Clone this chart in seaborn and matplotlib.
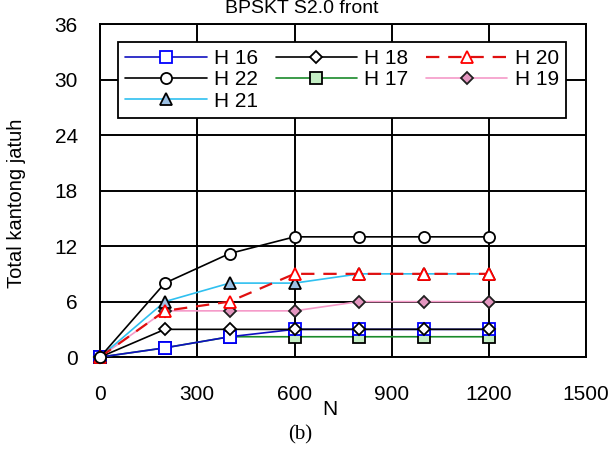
import pandas as pd
import seaborn as sns
import matplotlib.pyplot as plt

# data
n_values = [0, 200, 400, 600, 800, 1000, 1200]
h16 = [0, 1, 2.2, 3, 3, 3, 3]
h17 = [0, 1, 2.2, 2.2, 2.2, 2.2, 2.2]
h18 = [0, 3, 3, 3, 3, 3, 3]
h19 = [0, 5, 5, 5, 6, 6, 6]
h20 = [0, 5, 6, 9, 9, 9, 9]
h21 = [0, 6, 8, 8, 9, 9, 9]
h22 = [0, 8, 11.2, 13, 13, 13, 13]

x_ticks = [0, 300, 600, 900, 1200, 1500]
y_ticks = [0, 6, 12, 18, 24, 30, 36]

sns.set_style('white')
plt.rcParams['font.family'] = ['Liberation Sans', 'DejaVu Sans']
plt.rcParams['text.color'] = 'black'
plt.rcParams['axes.labelcolor'] = 'black'

df = pd.DataFrame({'N': n_values, 'H 16': h16, 'H 17': h17, 'H 18': h18,
                   'H 19': h19, 'H 20': h20, 'H 21': h21, 'H 22': h22})

# name: (line colour, linestyle, marker, face, edge, linewidth)
styles = {
    'H 17': ('#1a8a2a', '-', 's', '#c4eec4', 'black', 1.2),
    'H 16': ('#1010c0', '-', 's', 'white', '#0000ff', 1.2),
    'H 18': ('black', '-', 'D', 'white', 'black', 1.2),
    'H 19': ('#f59ac8', '-', 'D', '#e496c0', '#202020', 1.2),
    'H 21': ('#2fc0f0', '-', '^', '#9cc0e4', 'black', 1.2),
    'H 20': ('#e01010', (0, (6, 4)), '^', 'white', '#ff0000', 1.6),
    'H 22': ('black', '-', 'o', 'white', 'black', 1.2),
}

fig = plt.figure(figsize=(6.1, 4.59), dpi=100)
ax = fig.add_axes([0.164, 0.222, 0.797, 0.7255])

handles = {}
for name, (c, ls, m, fc, ec, lw) in styles.items():
    sns.lineplot(data=df, x='N', y=name, ax=ax, color=c, linestyle=ls, linewidth=lw,
                 marker=m, markersize=8 if m != 'D' else 6.5, markerfacecolor=fc,
                 markeredgecolor=ec, markeredgewidth=1.3, clip_on=False, zorder=3)
    handles[name] = ax.lines[-1]

ax.set_xlim(0, 1500)
ax.set_ylim(0, 36)
ax.set_xticks(x_ticks)
ax.set_yticks(y_ticks)
ax.grid(True, color='black', linewidth=1.4)
for s in ax.spines.values():
    s.set_color('black')
    s.set_linewidth(1.4)
ax.tick_params(axis='both', direction='out', length=6, width=1.4, colors='black',
               labelsize=15)
ax.tick_params(axis='y', pad=10)
ax.tick_params(axis='x', pad=14)

ax.set_xlabel('N', fontsize=15, va='center')
ax.xaxis.set_label_coords(0.473, -0.156)
ax.set_ylabel('Total kantong jatuh', fontsize=14.5, va='center')
ax.yaxis.set_label_coords(-0.171, 0.462)

order = ['H 16', 'H 22', 'H 21', 'H 18', 'H 17', 'H 20', 'H 19']
leg = ax.legend([handles[k] for k in order], order, ncol=3, loc='upper left',
                bbox_to_anchor=(0.037, 0.946), borderaxespad=0,
                fontsize=15, handlelength=3.9, handletextpad=0.35, columnspacing=0.85,
                labelspacing=0.1, borderpad=0.35, fancybox=False, framealpha=1,
                edgecolor='black')
leg.get_frame().set_linewidth(1.3)

fig.text(0.495, 0.999, 'BPSKT S2.0 front', ha='center', va='top', fontsize=14)
fig.text(0.492, 0.052, '(b)', ha='center', va='center', fontsize=15,
         family=['Liberation Serif', 'DejaVu Serif'])

fig.savefig('out.png', dpi=100)
